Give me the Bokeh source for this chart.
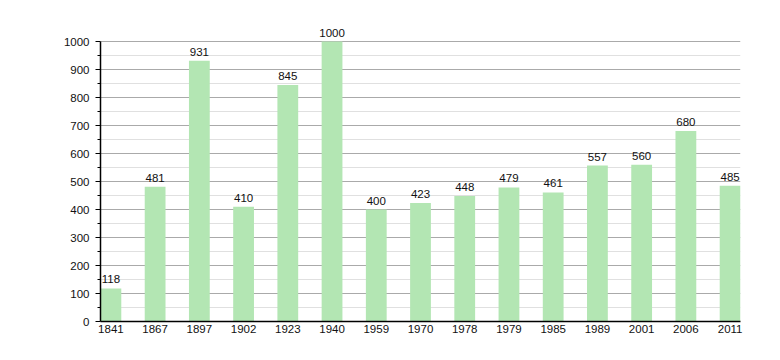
from bokeh.plotting import figure
from bokeh.models import ColumnDataSource, FixedTicker, Range1d, LabelSet
from bokeh.core.properties import value
from bokeh.embed import file_html
from bokeh.resources import INLINE

years = ["1841", "1867", "1897", "1902", "1923", "1940", "1959", "1970",
         "1978", "1979", "1985", "1989", "2001", "2006", "2011"]
population = [118, 481, 931, 410, 845, 1000, 400, 423, 448, 479, 461, 557, 560, 680, 485]

xs = list(range(len(years)))
src = ColumnDataSource(dict(x=xs, y=population, lbl=[str(v) for v in population]))

extra_px = 16
frame_h = 280 + extra_px
p = figure(width=772, height=352, output_backend="svg", toolbar_location=None,
           x_range=Range1d(-0.235, len(years) - 1 + 0.235),
           y_range=Range1d(0, 1000 * frame_h / 280),
           frame_width=640, frame_height=frame_h,
           min_border_left=100, min_border_right=32, min_border_top=41 - extra_px,
           min_border_bottom=31)
p.outline_line_color = None
p.background_fill_color = "white"

p.vbar(x="x", top="y", width=0.47, bottom=0, source=src,
       fill_color="#b3e6b3", line_color=None)

labels = LabelSet(x="x", y="y", text="lbl", source=src, text_align="center",
                  text_baseline="bottom", y_offset=5,
                  text_font_size=value("11.5px"),
                  text_font=value("Liberation Sans"), text_color=value("#111111"))
p.add_layout(labels)

p.xaxis.ticker = FixedTicker(ticks=xs)
p.xaxis.major_label_overrides = {i: y for i, y in enumerate(years)}
p.xaxis.major_tick_line_color = None
p.xaxis.major_tick_in = 0
p.xaxis.major_tick_out = 0
p.xaxis.minor_tick_line_color = None
p.xaxis.axis_line_color = "black"
p.xaxis.axis_line_width = 1.5
p.xaxis.major_label_standoff = 3

p.yaxis.ticker = FixedTicker(ticks=list(range(0, 1001, 100)),
                             minor_ticks=list(range(50, 1000, 100)))
p.yaxis.bounds = (0, 1000)
p.yaxis.axis_line_color = "black"
p.yaxis.axis_line_width = 1.5
p.yaxis.major_tick_in = 0
p.yaxis.major_tick_out = 5
p.yaxis.minor_tick_in = 0
p.yaxis.minor_tick_out = 3
p.yaxis.major_label_standoff = 6

for ax in (p.xaxis, p.yaxis):
    ax.major_label_text_font = "Liberation Sans"
    ax.major_label_text_font_size = "11.5px"
    ax.major_label_text_color = "#111111"

p.xgrid.grid_line_color = None
p.ygrid.grid_line_color = "#aaaaaa"
p.ygrid.minor_grid_line_color = "#e0e0e0"
p.ygrid.level = "underlay"

open("out.html", "w").write(file_html(p, INLINE))
